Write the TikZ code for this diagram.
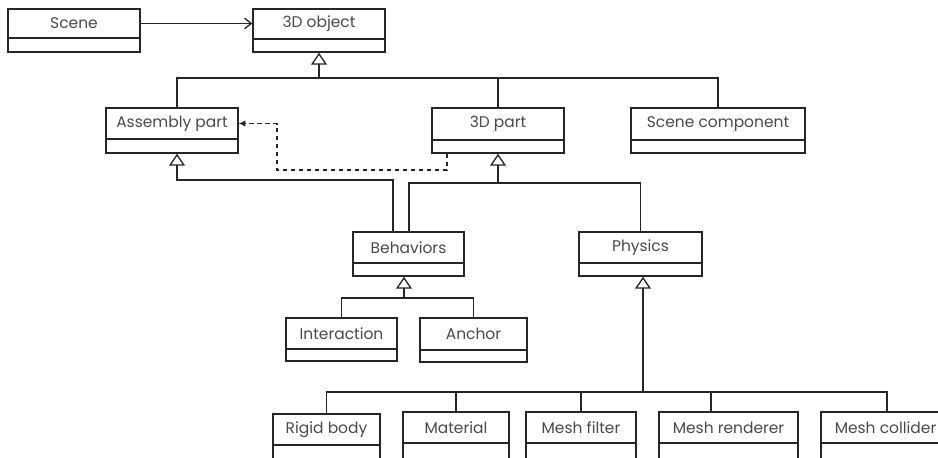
\documentclass[tikz,border=0pt]{standalone}
\usepackage{fontspec}
\setmainfont{Poppins}
\usetikzlibrary{arrows.meta,fit}
\definecolor{txt}{HTML}{4A4A4A}
\tikzset{
 boxst/.style={draw=black!85, line width=1.1pt, inner sep=0pt},
 divst/.style={draw=black!85, line width=1.3pt},
 lbl/.style={text=txt, font=\fontsize{11.6}{13}\selectfont, inner sep=0pt},
 line/.style={draw=black!85, line width=1pt},
 inh/.style={line, -{Triangle[open,length=9pt,width=12pt]}},
 assoc/.style={line, -{Straight Barb[length=5pt,width=8pt]}},
 dep/.style={line, dash pattern=on 3.5pt off 2.5pt, -{Latex[length=5pt,width=5pt]}},
}
\newcommand\umlbox[7]{%
 \coordinate (#1-nw) at (#2,#3);
 \coordinate (#1-se) at (#4,#6);
 \node[boxst, fit=(#1-nw)(#1-se)] (#1) {};
 \draw[divst] (#2,#5) -- (#4,#5);
 \node[lbl] (#1-t) at ({(#2+#4)/2},{(#3+#5)/2}) {#7};
}
\begin{document}
\begin{tikzpicture}[x=0.75pt,y=-0.75pt]
\useasboundingbox (0,0) rectangle (938,457);
\clip (0,0) rectangle (938,457);
\umlbox{scene}{8}{9}{140}{38}{52}{Scene}
\umlbox{obj}{253}{9}{385}{39}{52}{3D object}
\umlbox{asm}{106}{108}{238}{139}{153}{Assembly part}
\umlbox{part}{432}{108}{564}{140}{153}{3D part}
\umlbox{comp}{631}{108}{805}{140}{153}{Scene component}
\umlbox{beh}{353}{232}{464}{263}{276}{Behaviors}
\umlbox{phys}{579}{232}{702}{263}{276}{Physics}
\umlbox{inter}{286}{318}{397}{349}{361}{Interaction}
\umlbox{anch}{420}{318}{527}{350}{362}{Anchor}
\umlbox{rigid}{273}{414}{380}{445}{470}{Rigid body}
\umlbox{mat}{403}{412}{509}{443}{470}{Material}
\umlbox{mfil}{526}{412}{636}{443}{470}{Mesh filter}
\umlbox{mren}{659}{412}{798}{443}{470}{Mesh renderer}
\umlbox{mcol}{821}{412}{950}{443}{470}{Mesh collider}
\coordinate (x177) at (177,0);
\coordinate (x393) at (393,0);
\coordinate (x409) at (409,0);
\coordinate (d0) at (447,0);
\coordinate (d1) at (277,170);
\coordinate (x711) at (711,0);
\coordinate (x887) at (887,0);
\coordinate (bus1) at (319,78);
\coordinate (bus2) at (177,180);
\coordinate (bus3) at (498,183);
\coordinate (bus4) at (404,298);
\coordinate (bus5) at (643,392);
\draw[assoc] (scene.east |- scene-t) -- (obj.west |- scene-t);
\draw[inh] (asm.north -| x177) |- (bus1) -- (obj.south);
\draw[line] (comp.north) |- (bus1);
\draw[line] (part.north) -- (part.north |- bus1);
\draw[inh] (beh.north -| x393) |- (bus2) -- (asm.south -| bus2);
\draw[inh] (beh.north -| x409) |- (bus3) -- (part.south);
\draw[line] (phys.north) |- (bus3);
\draw[dep] (part.south -| d0) |- (d1) |- (asm.east |- asm-t);
\draw[inh] (inter.north) |- (bus4) -- (bus4 |- beh.south);
\draw[line] (anch.north) |- (bus4);
\draw[inh] (rigid.north) |- (bus5) -- (bus5 |- phys.south);
\draw[line] (mat.north) -- (mat.north |- bus5);
\draw[line] (mfil.north) -- (mfil.north |- bus5);
\draw[line] (mren.north -| x711) -- (x711 |- bus5);
\draw[line] (mcol.north -| x887) |- (bus5);
\end{tikzpicture}
\end{document}
